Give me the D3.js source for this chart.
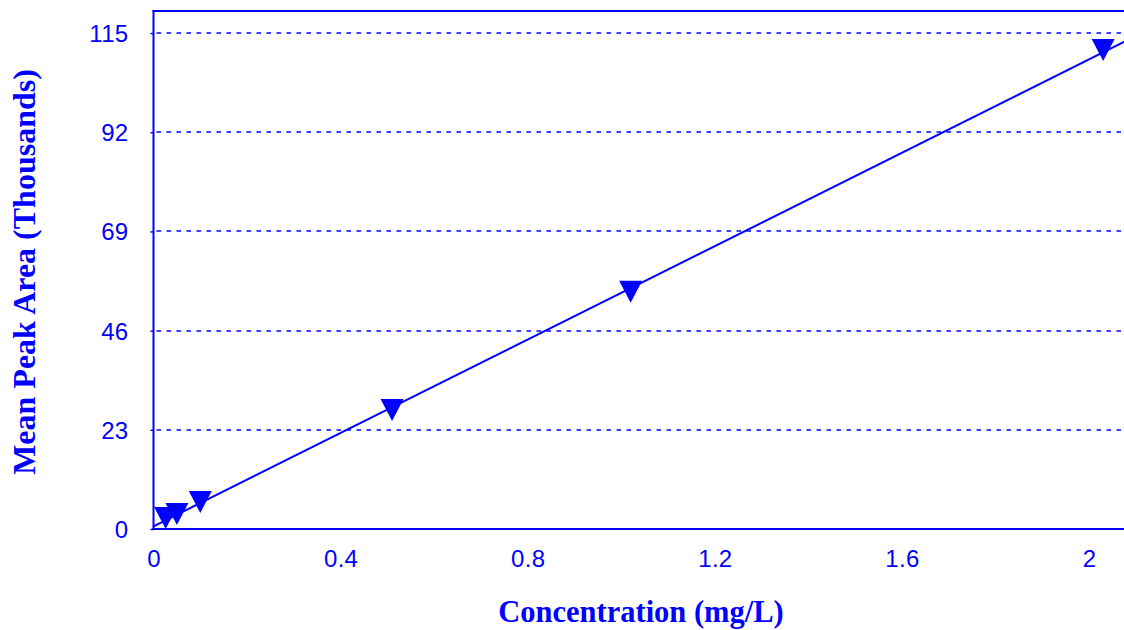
<!DOCTYPE html>
<html>
<head>
<meta charset="utf-8">
<script src="https://cdn.jsdelivr.net/npm/d3@7"></script>
<style>
  html, body { margin: 0; padding: 0; background: #fff; }
  svg { display: block; }
</style>
</head>
<body>
<svg id="chart" width="1124" height="630"></svg>
<script>
// Data
const concentration = [0.026, 0.05, 0.1, 0.51, 1.02, 2.03];        // mg/L
const meanPeakArea  = [2.55, 3.48, 6.26, 27.6, 55.0, 111.1];       // thousands
const yTicks = [0, 23, 46, 69, 92, 115];
const xTicks = [0, 0.4, 0.8, 1.2, 1.6, 2];

const W = 1124, H = 630;
const blue = "#0000ff";
const plotLeft = 153.5, plotBottom = 529, plotTop = 11;

const svg = d3.select("#chart");

const x = d3.scaleLinear().domain([0, 2.1]).range([plotLeft, plotLeft + 467.8 * 2.1]);
const y = d3.scaleLinear().domain([0, 120]).range([plotBottom, plotTop + 0.5]);

// clip for plot area
svg.append("defs").append("clipPath").attr("id", "plotclip")
  .append("rect").attr("x", plotLeft).attr("y", plotTop).attr("width", W - plotLeft).attr("height", plotBottom - plotTop);

// gridlines (dashed)
svg.append("g").selectAll("line").data(yTicks.filter(d => d > 0)).join("line")
  .attr("x1", plotLeft + 3).attr("x2", W)
  .attr("y1", d => Math.round(y(d))).attr("y2", d => Math.round(y(d)))
  .attr("stroke", blue).attr("stroke-width", 1.5).attr("stroke-dasharray", "4.5,5.5");

// Y axis labels (with small outward tick marks)
const yAxis = d3.axisLeft(y).tickValues(yTicks).tickSize(3).tickPadding(22).tickFormat(d3.format("d"));
const gy = svg.append("g").attr("transform", `translate(${plotLeft},0)`).call(yAxis);
gy.select(".domain").remove();
gy.selectAll(".tick line").attr("stroke", blue).attr("stroke-width", 1.5);
gy.selectAll("text").attr("fill", blue).attr("font-family", "'Liberation Sans', Arial, sans-serif")
  .attr("font-size", 24).attr("letter-spacing", 0.3).attr("dy", "0.35em");

// X axis labels
const xAxis = d3.axisBottom(x).tickValues(xTicks).tickSize(0).tickPadding(21).tickFormat(d => d3.format("")(d));
const gx = svg.append("g").attr("transform", `translate(0,${plotBottom})`).call(xAxis);
gx.select(".domain").remove();
gx.selectAll("text").attr("fill", blue).attr("font-family", "'Liberation Sans', Arial, sans-serif")
  .attr("font-size", 24).attr("letter-spacing", 0.3);

// frame lines: top, left, bottom
svg.append("line").attr("x1", plotLeft - 1).attr("x2", W).attr("y1", plotTop).attr("y2", plotTop)
  .attr("stroke", blue).attr("stroke-width", 2);
svg.append("line").attr("x1", plotLeft).attr("x2", plotLeft).attr("y1", plotTop - 1).attr("y2", plotBottom + 1)
  .attr("stroke", blue).attr("stroke-width", 2);
svg.append("line").attr("x1", plotLeft - 1).attr("x2", W).attr("y1", plotBottom).attr("y2", plotBottom)
  .attr("stroke", blue).attr("stroke-width", 2);

// linear trend line (least squares on the data)
const n = concentration.length;
const mx = d3.mean(concentration), my = d3.mean(meanPeakArea);
let sxy = 0, sxx = 0;
for (let i = 0; i < n; i++) {
  sxy += (concentration[i] - mx) * (meanPeakArea[i] - my);
  sxx += (concentration[i] - mx) ** 2;
}
const slope = sxy / sxx, intercept = my - slope * mx;
const trendX = [0, 2.1];
svg.append("path")
  .attr("clip-path", "url(#plotclip)")
  .datum(trendX)
  .attr("d", d3.line().x(d => x(d)).y(d => y(intercept + slope * d)))
  .attr("fill", "none").attr("stroke", blue).attr("stroke-width", 2);

// markers: downward triangles
const pts = concentration.map((c, i) => [c, meanPeakArea[i]]);
svg.append("g").selectAll("path").data(pts).join("path")
  .attr("transform", d => `translate(${x(d[0])},${y(d[1])})`)
  .attr("d", "M-11.5,-11L11.5,-11L0,11Z")
  .attr("fill", blue);

// axis titles
svg.append("text").attr("x", 641).attr("y", 622).attr("text-anchor", "middle")
  .attr("font-family", "'Liberation Serif', 'Times New Roman', serif").attr("font-weight", "bold")
  .attr("font-size", 30.5).attr("fill", blue).text("Concentration (mg/L)");
svg.append("text").attr("transform", "translate(35,272) rotate(-90)").attr("text-anchor", "middle")
  .attr("font-family", "'Liberation Serif', 'Times New Roman', serif").attr("font-weight", "bold")
  .attr("font-size", 32).attr("fill", blue).text("Mean Peak Area (Thousands)");
</script>
</body>
</html>
